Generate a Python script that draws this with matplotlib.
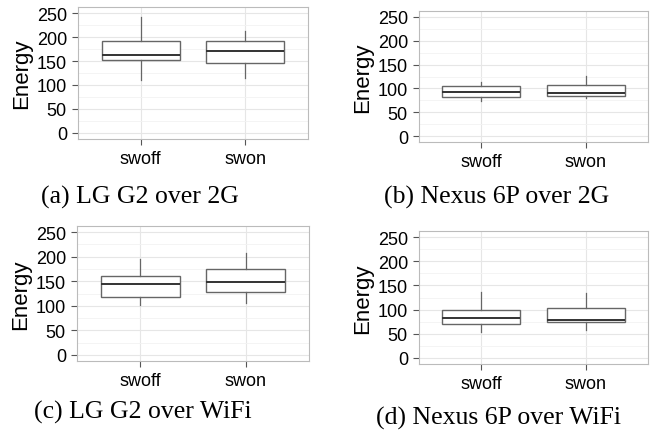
import matplotlib
matplotlib.use('Agg')
import matplotlib.pyplot as plt

matplotlib.rcParams['font.family'] = 'Liberation Sans'

# box stats: [swoff, swon]
cats = ['swoff', 'swon']
captions = ['(a) LG G2 over 2G', '(b) Nexus 6P over 2G',
            '(c) LG G2 over WiFi', '(d) Nexus 6P over WiFi']

lg2g_lo = [111, 115]
lg2g_q1 = [153, 146]
lg2g_med = [163, 171]
lg2g_q3 = [192, 192]
lg2g_hi = [241, 213]

nx2g_lo = [73, 79]
nx2g_q1 = [81, 85]
nx2g_med = [93, 91]
nx2g_q3 = [105, 107]
nx2g_hi = [114, 126]

lgwifi_lo = [102, 105]
lgwifi_q1 = [118, 128]
lgwifi_med = [145, 148]
lgwifi_q3 = [161, 175]
lgwifi_hi = [195, 208]

nxwifi_lo = [54, 57]
nxwifi_q1 = [70, 74]
nxwifi_med = [83, 79]
nxwifi_q3 = [99, 103]
nxwifi_hi = [136, 134]

panels = [
    (lg2g_lo, lg2g_q1, lg2g_med, lg2g_q3, lg2g_hi),
    (nx2g_lo, nx2g_q1, nx2g_med, nx2g_q3, nx2g_hi),
    (lgwifi_lo, lgwifi_q1, lgwifi_med, lgwifi_q3, lgwifi_hi),
    (nxwifi_lo, nxwifi_q1, nxwifi_med, nxwifi_q3, nxwifi_hi),
]

# axes boxes in pixels (left, top, right, bottom)
boxes = [(78, 8, 308, 140), (419, 12, 648, 143),
         (77, 227, 309, 362), (419, 232, 648, 365)]
cap_pos = [(140, 197), (497, 197), (143, 412), (499, 418)]

W, H = 655, 435
fig = plt.figure(figsize=(W / 100, H / 100), dpi=100)

for i, (lo, q1, med, q3, hi) in enumerate(panels):
    l, t, r, b = boxes[i]
    ax = fig.add_axes([l / W, (H - b) / H, (r - l) / W, (b - t) / H])
    stats = []
    for k in range(2):
        stats.append({'whislo': lo[k], 'q1': q1[k], 'med': med[k],
                      'q3': q3[k], 'whishi': hi[k], 'fliers': []})
    ax.bxp(stats, positions=[1, 2], widths=0.75, showcaps=False,
           patch_artist=True,
           boxprops=dict(facecolor='white', edgecolor='#666666', linewidth=1.0),
           whiskerprops=dict(color='#666666', linewidth=0.9),
           medianprops=dict(color='#333333', linewidth=1.4),
           zorder=3)
    ax.set_xlim(0.4, 2.6)
    ax.set_ylim(-12.5, 262.5)
    ax.set_xticks([1, 2])
    ax.set_xticklabels(cats, fontsize=13)
    ax.set_yticks([0, 50, 100, 150, 200, 250])
    ax.set_yticks([25, 75, 125, 175, 225], minor=True)
    ax.tick_params(axis='y', which='major', labelsize=13)
    ax.tick_params(axis='both', which='major', color='#555555',
                   length=4, width=0.8, pad=4)
    ax.tick_params(axis='y', which='minor', length=0)
    ax.grid(True, which='major', color='#e6e6e6', linewidth=0.8, zorder=0)
    ax.grid(True, which='minor', axis='y', color='#f2f2f2', linewidth=0.6, zorder=0)
    ax.set_axisbelow(True)
    for s in ax.spines.values():
        s.set_color('#bbbbbb')
        s.set_linewidth(0.8)
    ax.set_ylabel('Energy', fontsize=16, labelpad=3)
    cx, cy = cap_pos[i]
    fig.text(cx / W, (H - cy) / H, captions[i], ha='center', va='center',
             fontsize=18.5, family='Liberation Serif')

fig.savefig('out.png', dpi=100)
